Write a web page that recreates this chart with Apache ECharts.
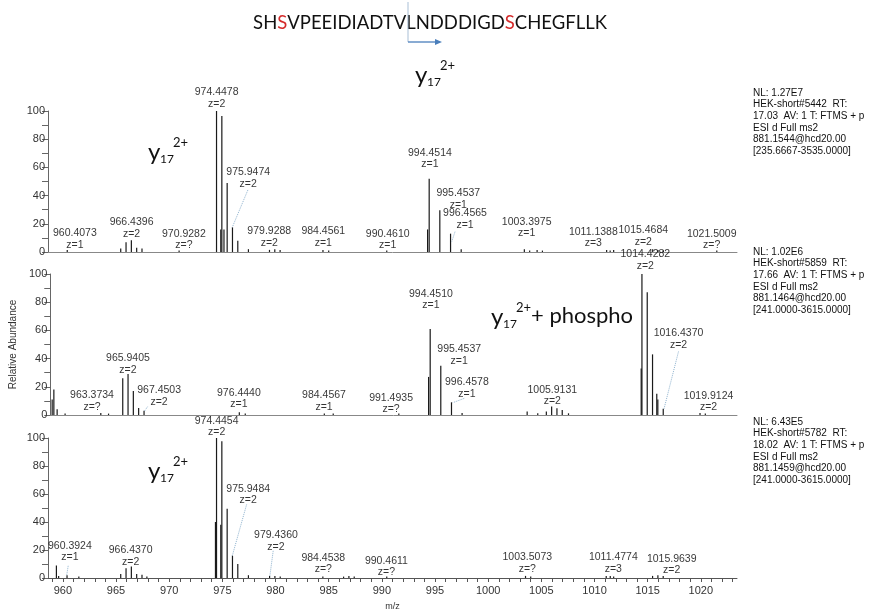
<!DOCTYPE html>
<html><head><meta charset="utf-8">
<script src="https://cdn.jsdelivr.net/npm/echarts@6/dist/echarts.min.js"></script>
<style>html,body{margin:0;padding:0;background:#fff}#c{width:877px;height:612px}</style>
</head><body><div id="c"></div>
<script>
// ---------------- DATA ----------------
const xTickValues = [];
for (let v = 959; v <= 1023; v++) xTickValues.push(v);
const xLabelValues = [960, 965, 970, 975, 980, 985, 990, 995, 1000, 1005, 1010, 1015, 1020];
const yTickLabels = [0, 20, 40, 60, 80, 100];

// Panel 1 (NL 1.27E7)
const p1Mz = [960.41, 965.44, 965.94, 966.44, 966.94, 967.44, 970.93, 974.45, 974.85, 974.95, 975.15, 975.45, 975.95, 976.45, 977.45,
  979.43, 979.93, 980.43, 984.46, 985.0, 990.46, 994.3, 994.45, 995.45, 996.46, 997.46, 1003.40, 1003.9, 1004.6, 1005.1,
  1011.14, 1011.47, 1011.8, 1015.47, 1015.97, 1016.47, 1021.50];
const p1Ab = [1.5, 2.4, 7, 8.3, 3, 2.4, 1, 100, 16, 96.5, 16, 49, 17.5, 8, 2,
  1.5, 2, 1.5, 1.5, 1, 1, 16, 52, 29.6, 13, 2, 2, 1, 1.5, 1,
  1.5, 1, 1.5, 2, 1.5, 1, 1];
const p1Labels = [['974.4478','z=2'],['975.9474','z=2'],['960.4073','z=1'],['966.4396','z=2'],['970.9282','z=?'],
  ['979.9288','z=2'],['984.4561','z=1'],['990.4610','z=1'],['994.4514','z=1'],['995.4537','z=1'],['996.4565','z=1'],
  ['1003.3975','z=1'],['1011.1388','z=3'],['1015.4684','z=2'],['1021.5009','z=?']];

// Panel 2 (NL 1.02E6)
const p2Mz = [958.78, 958.94, 959.25, 960.0, 963.37, 964.1, 965.44, 965.94, 966.44, 966.94, 967.45, 976.44, 977.0,
  984.46, 985.3, 991.49, 994.3, 994.45, 995.45, 996.46, 997.46, 1003.6, 1004.6, 1005.41, 1005.91, 1006.41, 1006.91, 1007.5,
  1014.36, 1014.43, 1014.93, 1015.43, 1015.83, 1015.93, 1016.44, 1019.91, 1020.41];
const p2Ab = [11, 18, 4, 1, 1.5, 1, 26, 29, 17, 5, 3, 2, 1,
  1, 1, 1, 27, 61, 35, 9, 1.5, 2.4, 1.2, 2.4, 6, 4.7, 3.5, 1.2,
  33, 100, 87, 43, 15, 11, 4.5, 1.5, 1];
const p2Labels = [['963.3734','z=?'],['965.9405','z=2'],['967.4503','z=2'],['976.4440','z=1'],['984.4567','z=1'],
  ['991.4935','z=?'],['994.4510','z=1'],['995.4537','z=1'],['996.4578','z=1'],['1005.9131','z=2'],
  ['1014.4282','z=2'],['1016.4370','z=2'],['1019.9124','z=2']];

// Panel 3 (NL 6.43E5)
const p3Mz = [959.39, 959.6, 960.39, 961.5, 965.44, 965.94, 966.44, 966.94, 967.44, 967.9, 974.35, 974.45, 974.85, 974.95,
  975.45, 975.95, 976.45, 977.45, 979.44, 979.94, 980.44, 984.45, 986.4, 986.9, 987.4, 990.46, 1003.51, 1004.0,
  1011.1, 1011.48, 1011.8, 1015.46, 1015.96, 1016.46];
const p3Ab = [9, 1.5, 2, 1, 2.8, 7, 8.3, 2.8, 2.4, 1, 40, 100, 38, 97.6,
  49.5, 16, 10, 2, 1.5, 1.5, 1, 1, 1, 1.5, 1, 1, 1.5, 1,
  1.5, 1.5, 1, 1.5, 2, 1.5];
const p3Labels = [['974.4454','z=2'],['960.3924','z=1'],['966.4370','z=2'],['975.9484','z=2'],['979.4360','z=2'],
  ['984.4538','z=?'],['990.4611','z=?'],['1003.5073','z=?'],['1011.4774','z=3'],['1015.9639','z=2']];

const infoBlocks = [
  ['NL: 1.27E7','HEK-short#5442  RT:','17.03  AV: 1 T: FTMS + p','ESI d Full ms2','881.1544@hcd20.00','[235.6667-3535.0000]'],
  ['NL: 1.02E6','HEK-short#5859  RT:','17.66  AV: 1 T: FTMS + p','ESI d Full ms2','881.1464@hcd20.00','[241.0000-3615.0000]'],
  ['NL: 6.43E5','HEK-short#5782  RT:','18.02  AV: 1 T: FTMS + p','ESI d Full ms2','881.1459@hcd20.00','[241.0000-3615.0000]']
];

// ---------------- LAYOUT (label anchors in data units) ----------------
const p1LabelPos = [[974.46,109],[977.43,52.5],[961.13,9.1],[966.46,17],[971.38,8.7],[979.41,10.5],[984.49,10.5],
  [990.55,8.7],[994.52,66.4],[997.19,37.4],[997.82,23.3],[1003.62,17.4],[1009.89,10.3],[1014.59,11.2],[1021.02,8.7]];
const p2LabelPos = [[962.54,9.7],[965.93,36],[968.87,13.3],[976.40,11.5],[984.43,10],[990.76,8.2],[994.52,82],
  [997.19,42.3],[997.91,18.9],[1005.97,13.6],[1014.75,110],[1017.88,54],[1020.71,9.4]];
const p3LabelPos = [[974.46,108],[960.66,19],[966.37,15.8],[977.43,59.4],[980.04,26.2],[984.49,10.3],[990.43,8.2],
  [1003.68,10.8],[1011.77,10.5],[1017.26,9.6]];
const p1Leaders = [[[977.40,44],[975.93,17.5]],[[996.88,14.4],[996.57,7.3]]];
const p2Leaders = [[[967.78,5.9],[967.46,2.4]],[[997.66,11.8],[996.57,8.7]],[[1017.88,45],[1016.5,4]]];
const p3Leaders = [[[960.5,8.7],[960.35,1.6]],[[977.28,52.5],[975.93,15.8]],[[979.78,19.4],[979.47,1.6]]];

// ---------------- CHART ----------------
const chart = echarts.init(document.getElementById('c'));
const gridTops = [111, 274, 438];
const XMIN = 958.6, XMAX = 1023.4;
const FONT = '"Liberation Sans", Arial, sans-serif';

function xAxis(i) {
  const last = i === 2;
  return {
    type: 'value', gridIndex: i, min: XMIN, max: XMAX,
    axisLine: { show: true, lineStyle: { color: last ? '#555' : '#888', width: 1 } },
    axisTick: last ? { show: true, customValues: xTickValues, length: 4, lineStyle: { color: '#555' } } : { show: false },
    axisLabel: last ? { show: true, customValues: xLabelValues, fontSize: 11, color: '#333', fontFamily: FONT, margin: 7,
      formatter: v => String(v) } : { show: false },
    splitLine: { show: false },
    name: last ? 'm/z' : '', nameLocation: 'middle', nameGap: 24,
    nameTextStyle: { fontSize: 9, color: '#333', fontFamily: FONT }
  };
}
function yAxis(i) {
  return {
    type: 'value', gridIndex: i, min: 0, max: 100, interval: 20,
    axisLine: { show: true, lineStyle: { color: '#666' } },
    axisTick: { show: true, length: 6, lineStyle: { color: '#666' } },
    minorTick: { show: true, splitNumber: 2, length: 6, lineStyle: { color: '#666' } },
    axisLabel: { fontSize: 11, color: '#333', fontFamily: FONT, margin: 3,
      formatter: v => yTickLabels.includes(v) ? String(v) : '' },
    splitLine: { show: false },
    name: i === 1 ? 'Relative Abundance' : '', nameLocation: 'middle', nameRotate: 90, nameGap: 28,
    nameTextStyle: { fontSize: 10, color: '#333', fontFamily: FONT }
  };
}
function peakSeries(i, mz, ab) {
  return {
    type: 'bar', xAxisIndex: i, yAxisIndex: i, barWidth: 1.2,
    itemStyle: { color: '#1a1a1a' }, silent: true, animation: false,
    data: mz.map((m, k) => [m, ab[k]])
  };
}
function labelSeries(i, texts, pos, leaders) {
  return {
    type: 'scatter', xAxisIndex: i, yAxisIndex: i, symbolSize: 0, clip: false, silent: true, animation: false,
    data: pos.map((p, k) => ({
      value: p,
      label: { show: true, position: 'inside', formatter: texts[k][0] + '\n' + texts[k][1],
        fontSize: 10.5, lineHeight: 11.5, color: '#000', fontFamily: FONT, align: 'center' }
    })),
    markLine: {
      silent: true, symbol: 'none', animation: false, label: { show: false },
      lineStyle: { color: '#8fb3cf', type: 'dotted', width: 1 },
      data: leaders.map(l => [{ coord: l[0] }, { coord: l[1] }])
    }
  };
}

const graphics = [];
// sequence title
graphics.push({ type: 'text', x: 430, y: 23, style: {
  text: 'SH{r|S}VPEEIDIADTVLNDDDIGD{r|S}CHEGFLLK', fontSize: 18.5, fontFamily: 'Lato, "Open Sans", sans-serif',
  fill: '#111', align: 'center', verticalAlign: 'middle',
  rich: { r: { fill: '#d42a2a', fontSize: 18.5, fontFamily: 'Lato, "Open Sans", sans-serif' } } } });
graphics.push({ type: 'line', shape: { x1: 408, y1: 2, x2: 408, y2: 42 }, style: { stroke: '#a9bfd6', lineWidth: 1 } });
graphics.push({ type: 'line', shape: { x1: 408, y1: 42, x2: 436, y2: 42 }, style: { stroke: '#4a7ebb', lineWidth: 1.3 } });
graphics.push({ type: 'polygon', shape: { points: [[435, 39], [442, 42], [435, 45]] }, style: { fill: '#4a7ebb' } });

function ion(x, y, extra) {
  const f = 'Lato, "Open Sans", sans-serif';
  graphics.push({ type: 'text', x: x, y: y, style: { text: 'y', fontSize: 24, fontFamily: f, fill: '#111', verticalAlign: 'middle' } });
  graphics.push({ type: 'text', x: x + 12, y: y + 7, style: { text: '17', fontSize: 12, fontFamily: f, fill: '#111', verticalAlign: 'middle' } });
  graphics.push({ type: 'text', x: x + 25, y: y - 9, style: { text: '2+', fontSize: 13, fontFamily: f, fill: '#111', verticalAlign: 'middle' } });
  if (extra) graphics.push({ type: 'text', x: x + 40, y: y - 1, style: { text: extra, fontSize: 22, fontFamily: f, fill: '#111', verticalAlign: 'middle' } });
}
ion(415, 75);
ion(148, 152);
ion(491, 317, '+ phospho');
ion(148, 471);

const infoY = [93, 252, 422];
infoBlocks.forEach((lines, i) => {
  graphics.push({ type: 'text', x: 753, y: infoY[i] - 5.8, style: {
    text: lines.join('\n'), fontSize: 10, lineHeight: 11.6, fontFamily: FONT, fill: '#111', verticalAlign: 'top' } });
});

chart.setOption({
  animation: false,
  backgroundColor: '#fff',
  grid: gridTops.map(t => ({ left: 48, width: 689, top: t, height: 141 })),
  xAxis: [0, 1, 2].map(xAxis),
  yAxis: [0, 1, 2].map(yAxis),
  series: [
    peakSeries(0, p1Mz, p1Ab), labelSeries(0, p1Labels, p1LabelPos, p1Leaders),
    peakSeries(1, p2Mz, p2Ab), labelSeries(1, p2Labels, p2LabelPos, p2Leaders),
    peakSeries(2, p3Mz, p3Ab), labelSeries(2, p3Labels, p3LabelPos, p3Leaders)
  ],
  graphic: graphics
});
</script></body></html>
